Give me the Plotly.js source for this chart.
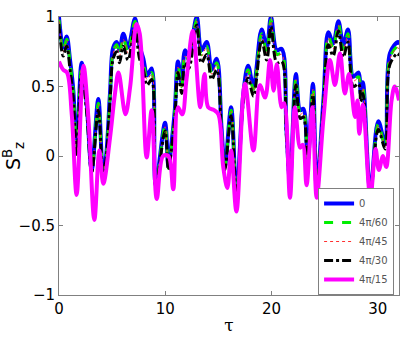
<!DOCTYPE html>
<html>
<head>
<meta charset="utf-8">
<script src="https://cdn.plot.ly/plotly-3.0.1.min.js"></script>
<style>
  body { margin: 0; background: #fff; }
  #plot { width: 415px; height: 338px; }
</style>
</head>
<body>
<div id="plot"></div>
<script>
// time points shared by the four close curves
var tau = [0, 0.4, 0.72, 1.04, 1.35, 1.66, 2.13, 2.6, 3.08, 3.7, 4.15, 4.4, 4.8, 5.1, 5.43, 5.7, 6.05, 6.5, 7.15, 7.55,
  7.94, 8.3, 8.72, 9.1, 9.98, 10.3, 10.6, 10.9, 11.2, 11.55, 11.86, 12.2, 12.96, 13.4, 13.9, 14.37, 14.84, 15.3, 15.6, 16.2,
  16.7, 17.35, 17.8, 18.3, 19.07, 19.55, 19.95, 20.5, 20.96, 21.4, 21.74, 22.3, 22.7, 23.0, 23.4, 23.9, 24.25, 24.9, 25.35, 25.8,
  26.3, 26.75, 27.2, 27.7, 28.2, 28.4, 28.6, 29.3, 30.05, 30.7, 31.15, 31.9, 32];

var s0 = [1.0, 0.78, 0.86, 0.69, 0.47, 0.02, 0.67, 0.38, -0.1, 0.41, -0.1, -0.02, 0.45, 0.78, 0.82, 0.76, 0.88, 0.78, 0.99, 0.8,
  0.70, 0.58, 0.63, -0.2, 0.24, -0.08, 0.1, 0.33, 0.68, 0.52, 0.76, 0.72, 1.0, 0.76, 0.82, 0.62, 0.70, 0.2, -0.08, 0.35,
  -0.28, 0.45, 0.65, 0.5, 0.91, 0.78, 1.0, 0.76, 0.77, 0.2, -0.18, 0.59, 0.33, 0.34, -0.04, 0.52, -0.22, 0.42, 0.89, 0.81,
  0.97, 0.8, 0.91, 0.57, 0.6, 0.45, 0.53, -0.25, 0.25, 0.09, 0.74, 0.82, 0.80];

var s60 = [0.98, 0.76, 0.84, 0.67, 0.45, 0.01, 0.64, 0.36, -0.11, 0.38, -0.11, -0.03, 0.43, 0.75, 0.80, 0.73, 0.85, 0.75, 0.97, 0.77,
  0.67, 0.56, 0.60, -0.21, 0.22, -0.09, 0.08, 0.31, 0.65, 0.50, 0.73, 0.69, 0.98, 0.73, 0.79, 0.60, 0.67, 0.18, -0.09, 0.33,
  -0.29, 0.43, 0.62, 0.48, 0.88, 0.75, 0.98, 0.73, 0.74, 0.18, -0.19, 0.56, 0.31, 0.32, -0.05, 0.49, -0.23, 0.40, 0.86, 0.78,
  0.95, 0.77, 0.88, 0.55, 0.57, 0.43, 0.50, -0.26, 0.23, 0.07, 0.71, 0.79, 0.77];

var s45 = [0.97, 0.75, 0.83, 0.66, 0.44, 0.01, 0.63, 0.35, -0.11, 0.37, -0.11, -0.03, 0.42, 0.74, 0.79, 0.72, 0.84, 0.74, 0.96, 0.76,
  0.66, 0.55, 0.59, -0.21, 0.21, -0.09, 0.08, 0.30, 0.64, 0.49, 0.72, 0.68, 0.97, 0.72, 0.78, 0.59, 0.66, 0.18, -0.09, 0.32,
  -0.29, 0.42, 0.61, 0.47, 0.87, 0.74, 0.97, 0.72, 0.73, 0.18, -0.19, 0.55, 0.30, 0.31, -0.05, 0.48, -0.23, 0.39, 0.85, 0.77,
  0.94, 0.76, 0.87, 0.54, 0.56, 0.42, 0.49, -0.26, 0.22, 0.07, 0.70, 0.78, 0.76];

var s30 = [0.95, 0.72, 0.79, 0.62, 0.41, 0.0, 0.59, 0.32, -0.12, 0.33, -0.12, -0.04, 0.39, 0.70, 0.75, 0.67, 0.79, 0.69, 0.92, 0.71,
  0.62, 0.51, 0.55, -0.22, 0.18, -0.1, 0.06, 0.27, 0.60, 0.45, 0.67, 0.63, 0.94, 0.67, 0.73, 0.55, 0.62, 0.15, -0.1, 0.29,
  -0.3, 0.39, 0.56, 0.43, 0.83, 0.69, 0.93, 0.67, 0.68, 0.15, -0.2, 0.51, 0.27, 0.28, -0.06, 0.44, -0.24, 0.36, 0.80, 0.72,
  0.90, 0.71, 0.82, 0.50, 0.52, 0.39, 0.45, -0.27, 0.19, 0.05, 0.66, 0.74, 0.72];

// the 4pi/15 curve has its own time points
var tau15 = [0, 0.4, 0.75, 1.2, 1.66, 2.3, 2.76, 3.33, 3.8, 4.17, 4.8, 5.27, 5.6, 6.25, 6.7, 7.3, 7.6, 8.25, 8.72, 9.2,
  9.8, 10.3, 10.75, 11.2, 11.6, 12.0, 12.6, 13.3, 13.7, 14.05, 14.6, 15.0, 15.46, 15.85, 16.2, 16.7, 17.5, 18.3, 18.9, 19.4,
  19.86, 20.2, 20.5, 20.96, 21.2, 21.74, 22.2, 22.7, 22.95, 23.3, 23.85, 24.25, 24.9, 25.5, 25.97, 26.45, 26.9, 27.3, 27.86, 28.1,
  28.26, 28.6, 29.3, 29.8, 30.1, 30.5, 30.8, 31.3, 31.6, 32];

var s15 = [0.68, 0.62, 0.6, 0.30, -0.28, 0.65, 0.28, -0.46, 0.04, -0.2, 0.13, 0.45, 0.6, 0.3, 0.5, 0.95, 0.88, -0.01, 0.33, -0.31,
  0.0, 0.0, -0.24, 0.35, 0.3, 0.55, 0.9, 0.35, 0.59, 0.35, 0.33, 0.3, -0.08, -0.23, 0.04, -0.40, 0.52, 0.04, 0.51, 0.42,
  0.69, 0.47, 0.66, 0.35, 0.38, -0.30, 0.35, 0.06, 0.08, -0.21, 0.35, -0.30, 0.28, 0.69, 0.51, 0.74, 0.45, 0.59, 0.28, 0.4,
  0.16, 0.37, -0.30, 0.05, -0.1, 0.0, -0.08, 0.4, 0.5, 0.4];

var names = ['0', '4\u03c0/60', '4\u03c0/45', '4\u03c0/30', '4\u03c0/15'];

var data = [
  {x: tau, y: s0, name: names[0], mode: 'lines', line: {color: '#0000ff', width: 4, shape: 'spline'}},
  {x: tau, y: s60, name: names[1], mode: 'lines', line: {color: '#00ee00', width: 3, dash: 'dash', shape: 'spline'}},
  {x: tau, y: s45, name: names[2], mode: 'lines', line: {color: '#ff3030', width: 1, dash: 'dot', shape: 'spline'}},
  {x: tau, y: s30, name: names[3], mode: 'lines', line: {color: '#000000', width: 3, dash: 'dashdot', shape: 'spline'}},
  {x: tau15, y: s15, name: names[4], mode: 'lines', line: {color: '#ff00ff', width: 4, shape: 'spline'}}
];

var axisStyle = {
  showgrid: false, zeroline: false, showline: true, mirror: 'ticks',
  linecolor: '#808080', linewidth: 1, ticks: 'inside', ticklen: 4, tickcolor: '#808080',
  tickfont: {family: 'DejaVu Sans', size: 15, color: '#000'}
};

var layout = {
  width: 415, height: 338,
  margin: {l: 59, r: 16, t: 17, b: 43},
  paper_bgcolor: '#fff', plot_bgcolor: '#fff',
  showlegend: true,
  xaxis: Object.assign({}, axisStyle, {
    range: [0, 32], tickvals: [0, 10, 20, 30],
    title: {text: '\u03c4', font: {family: 'DejaVu Serif', size: 17, color: '#000'}, standoff: 2}
  }),
  yaxis: Object.assign({}, axisStyle, {
    range: [-1, 1], tickvals: [-1, -0.5, 0, 0.5, 1], ticktext: ['\u22121', '\u22120.5', '0', '0.5', '1'],
    title: {text: 'S<sup>B</sup><sub>z</sub>', font: {family: 'DejaVu Sans', size: 19, color: '#000'}, standoff: 4}
  }),
  legend: {
    x: 0.762, y: 0, xanchor: 'left', yanchor: 'bottom',
    bgcolor: '#fff', bordercolor: '#808080', borderwidth: 1,
    font: {family: 'DejaVu Sans', size: 10, color: '#555'},
    tracegroupgap: 0
  }
};

Plotly.newPlot('plot', data, layout, {displayModeBar: false, staticPlot: true});
</script>
</body>
</html>
